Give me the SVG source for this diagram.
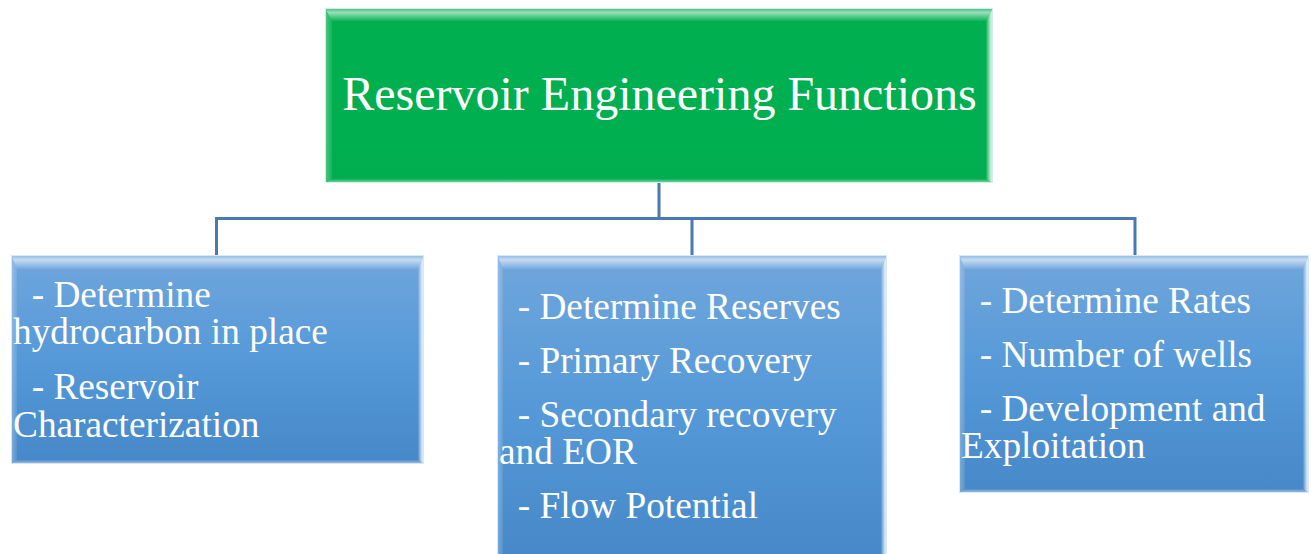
<svg xmlns="http://www.w3.org/2000/svg" width="1315" height="554" viewBox="0 0 1315 554">
  <defs>
    <linearGradient id="blueFill" x1="0" y1="0" x2="0" y2="1">
      <stop offset="0" stop-color="#70a6dc"/>
      <stop offset="0.5" stop-color="#5599d8"/>
      <stop offset="1" stop-color="#4688c8"/>
    </linearGradient>
    <linearGradient id="greenFill" x1="0" y1="0" x2="0" y2="1">
      <stop offset="0" stop-color="#00b050"/>
      <stop offset="1" stop-color="#00ae4f"/>
    </linearGradient>
    <linearGradient id="bevelTop" x1="0" y1="0" x2="0" y2="1">
      <stop offset="0" stop-color="#ffffff" stop-opacity="0.2"/>
      <stop offset="0.35" stop-color="#ffffff" stop-opacity="0.6"/>
      <stop offset="1" stop-color="#ffffff" stop-opacity="0.05"/>
    </linearGradient>
    <linearGradient id="bevelLeft" x1="0" y1="0" x2="1" y2="0">
      <stop offset="0" stop-color="#ffffff" stop-opacity="0.3"/>
      <stop offset="1" stop-color="#ffffff" stop-opacity="0.08"/>
    </linearGradient>
    <linearGradient id="bevelRight" x1="0" y1="0" x2="1" y2="0">
      <stop offset="0" stop-color="#ffffff" stop-opacity="0.05"/>
      <stop offset="0.6" stop-color="#ffffff" stop-opacity="0.7"/>
      <stop offset="1" stop-color="#ffffff" stop-opacity="0.9"/>
    </linearGradient>
    <linearGradient id="bevelBottom" x1="0" y1="0" x2="0" y2="1">
      <stop offset="0" stop-color="#ffffff" stop-opacity="0.05"/>
      <stop offset="1" stop-color="#ffffff" stop-opacity="0.55"/>
    </linearGradient>
  </defs>
  <style>
    .conn { fill: none; stroke: #4a78b0; stroke-width: 3; }
    .edge { fill: none; stroke: #d8e8f4; stroke-width: 1; }
    .title { font-family: "Liberation Serif", "Times New Roman", serif; font-size: 48px; fill: #ffffff; }
    .item { font-family: "Liberation Serif", "Times New Roman", serif; font-size: 37.3px; fill: #ffffff; }
  </style>

  <!-- connectors -->
  <g id="connectors">
    <path class="conn" d="M659 183 V218.5 M216.5 257 V218.5 H1135 V257 M692 218.5 V257"/>
  </g>

  <!-- root node -->
  <g id="root">
    <rect x="325" y="8" width="668" height="175" fill="url(#greenFill)"/>
    <polygon points="325,8 993,8 986,21 332,21" fill="url(#bevelTop)"/>
    <polygon points="325,8 332,21 332,179 325,183" fill="url(#bevelLeft)"/>
    <polygon points="993,8 993,183 986,179 986,21" fill="url(#bevelRight)"/>
    <polygon points="325,183 993,183 986,179 332,179" fill="url(#bevelBottom)"/>
    <rect class="edge" x="325.5" y="8.5" width="667" height="174" stroke="#c8f0d8"/>
    <text class="title" x="659.5" y="110" text-anchor="middle">Reservoir Engineering Functions</text>
  </g>

  <!-- left child -->
  <g id="node-in-place">
    <rect x="11" y="255" width="413" height="209" fill="url(#blueFill)"/>
    <polygon points="11,255 424,255 418,269 17,269" fill="url(#bevelTop)"/>
    <polygon points="11,255 17,269 17,460 11,464" fill="url(#bevelLeft)"/>
    <polygon points="424,255 424,464 418,460 418,269" fill="url(#bevelRight)"/>
    <polygon points="11,464 424,464 418,460 17,460" fill="url(#bevelBottom)"/>
    <rect class="edge" x="11.5" y="255.5" width="412" height="208"/>
    <text class="item" xml:space="preserve"><tspan x="13" y="306.5">  - Determine</tspan><tspan x="13" y="344">hydrocarbon in place</tspan><tspan x="13" y="399">  - Reservoir</tspan><tspan x="13" y="437">Characterization</tspan></text>
  </g>

  <!-- middle child -->
  <g id="node-reserves">
    <rect x="497" y="255" width="390" height="305" fill="url(#blueFill)"/>
    <polygon points="497,255 887,255 881,269 503,269" fill="url(#bevelTop)"/>
    <polygon points="497,255 503,269 503,560 497,560" fill="url(#bevelLeft)"/>
    <polygon points="887,255 887,560 881,560 881,269" fill="url(#bevelRight)"/>
    <rect class="edge" x="497.5" y="255.5" width="389" height="304"/>
    <text class="item" xml:space="preserve"><tspan x="499" y="319">  - Determine Reserves</tspan><tspan x="499" y="372.5">  - Primary Recovery</tspan><tspan x="499" y="426.5">  - Secondary recovery</tspan><tspan x="499" y="464">and EOR</tspan><tspan x="499" y="518">  - Flow Potential</tspan></text>
  </g>

  <!-- right child -->
  <g id="node-rates">
    <rect x="959" y="255" width="350" height="238" fill="url(#blueFill)"/>
    <polygon points="959,255 1309,255 1303,269 965,269" fill="url(#bevelTop)"/>
    <polygon points="959,255 965,269 965,489 959,493" fill="url(#bevelLeft)"/>
    <polygon points="1309,255 1309,493 1303,489 1303,269" fill="url(#bevelRight)"/>
    <polygon points="959,493 1309,493 1303,489 965,489" fill="url(#bevelBottom)"/>
    <rect class="edge" x="959.5" y="255.5" width="349" height="237"/>
    <text class="item" xml:space="preserve"><tspan x="961" y="312.5">  - Determine Rates</tspan><tspan x="961" y="366.5">  - Number of wells</tspan><tspan x="961" y="420.5">  - Development and</tspan><tspan x="961" y="458">Exploitation</tspan></text>
  </g>
</svg>
